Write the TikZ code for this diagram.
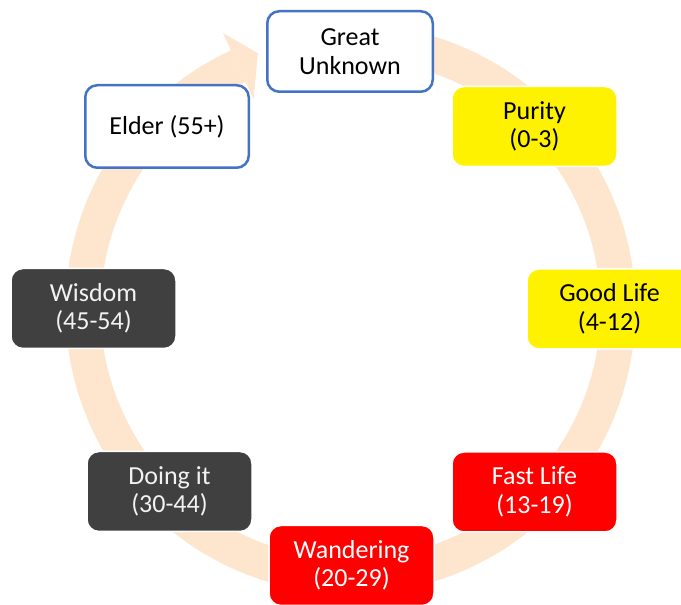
\documentclass[tikz,border=0pt]{standalone}
\usepackage{fontspec}
\setmainfont{Carlito}
\definecolor{ringpeach}{RGB}{253,230,205}
\definecolor{outlineblue}{HTML}{4472C4}
\definecolor{darkbox}{HTML}{404040}
\begin{document}
\begin{tikzpicture}[x=1pt,y=1pt,
  stage/.style={rectangle, rounded corners=12pt, minimum width=165pt,
    minimum height=80pt, align=center, inner sep=0pt,
    font=\fontsize{26}{28.5}\selectfont, draw=white, line width=1.5pt},
  openstage/.style={stage, fill=white, draw=outlineblue, line width=2.5pt, text=black},
  youngstage/.style={stage, fill=yellow, text=black},
  wildstage/.style={stage, fill=red, text=white},
  maturestage/.style={stage, fill=darkbox, text=white!95!black},
  ring/.style={fill=ringpeach}]
\useasboundingbox (0,0) rectangle (681,605);

% circular arrow running clockwise behind the stages
\begin{scope}[shift={(350.5,296)}]
  \fill[ring] (80:285) arc[start angle=80, end angle=-245.2, radius=285]
    -- (-245.2:250) arc[start angle=-245.2, end angle=80, radius=250] -- cycle;
  \fill[ring] (114.8:304) -- (109.9:272) -- (114.8:231) -- cycle;
\end{scope}

% life stages
\node[openstage, minimum width=165.5pt, minimum height=80.5pt] (unknown) at (350,553.5) {Great\\Unknown};
\node[youngstage] (purity) at (534.5,478.5) {Purity\\(0-3)};
\node[youngstage] (goodlife) at (609.5,296) {Good Life\\(4-12)};
\node[wildstage] (fastlife) at (534.5,113) {Fast Life\\(13-19)};
\node[wildstage] (wandering) at (351.5,39.5) {Wandering\\(20-29)};
\node[maturestage] (doingit) at (169.5,113.5) {Doing it\\(30-44)};
\node[maturestage] (wisdom) at (93.5,296.5) {Wisdom\\(45-54)};
\node[openstage, minimum width=163.5pt, minimum height=82.5pt] (elder) at (167,478.5) {Elder (55+)};
\end{tikzpicture}
\end{document}
